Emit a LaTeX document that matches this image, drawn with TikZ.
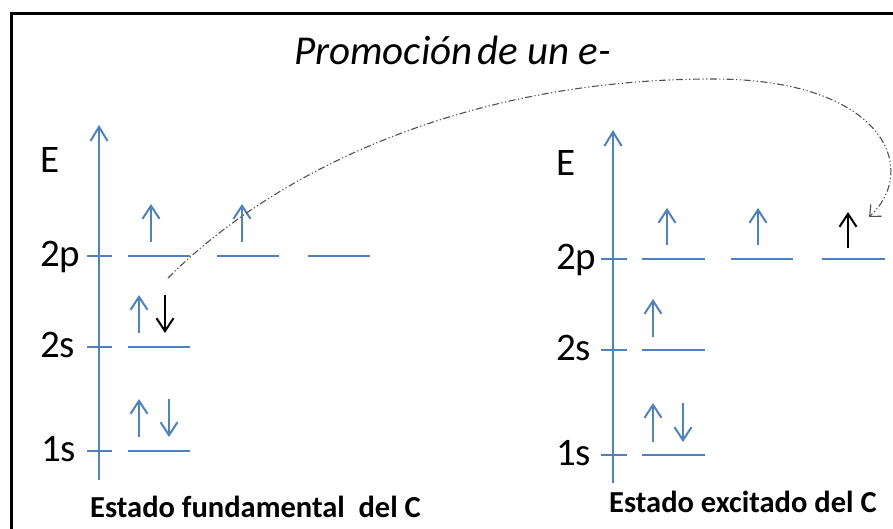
\documentclass[tikz,border=0pt]{standalone}
\usepackage{fontspec}
\setmainfont{Carlito}
\usetikzlibrary{arrows.meta}
\definecolor{oblue}{RGB}{79,129,189}
\definecolor{curvegray}{RGB}{80,80,80}
\begin{document}
\begin{tikzpicture}[x=1pt,y=-1pt,
  lvl/.style={draw=oblue, line width=2pt},
  axisarr/.style={draw=oblue, line width=2pt, -{Straight Barb[length=14pt,width=17pt,line width=2pt]}},
  spin/.style={draw=oblue, line width=2pt, -{Straight Barb[length=13pt,width=17pt,line width=2pt]}},
  bspin/.style={draw=black, line width=2pt, -{Straight Barb[length=13pt,width=17pt,line width=2pt]}},
  lab/.style={font=\fontsize{39}{39}\selectfont, inner sep=0pt, anchor=base west},
  captxt/.style={font=\bfseries\fontsize{30.5}{30.5}\selectfont, inner sep=0pt, anchor=base west},
  promo/.style={draw=curvegray, line width=1.1pt, dash pattern=on 7pt off 2.5pt on 1.2pt off 2.5pt on 1.2pt off 2.5pt,
     -{Straight Barb[length=9pt,width=16pt,line width=1.1pt]}}
]
\useasboundingbox (0,0) rectangle (893,529);
\fill[white] (0,0) rectangle (893,529);
% frame
\draw[line width=3pt] (11,560) -- (11,13.5) -- (920,13.5);
% title
\node[font=\itshape\fontsize{41}{41}\selectfont, inner sep=0pt, anchor=base west] (title) at (294,65) {Promoción\hspace{0.12em}de un e-};

% ---------- left: ground state ----------
\draw[axisarr] (99,480) -- (99,125);
\foreach \y in {256,347,451} \draw[lvl] (87,\y) -- (112,\y);
\draw[lvl] (128,256) -- (190,256);
\draw[lvl] (217,256) -- (279,256);
\draw[lvl] (308,256) -- (370,256);
\draw[lvl] (128,347) -- (190,347);
\draw[lvl] (128,451) -- (190,451);
\draw[spin] (151,242) -- (151,204);
\draw[spin] (242,242) -- (242,204);
\draw[spin] (139,333) -- (139,295);
\draw[bspin] (165,295) -- (165,333);
\draw[spin] (139,437) -- (139,399);
\draw[spin] (169,399) -- (169,437);
\node[lab] (lE) at (40,173) {E};
\node[lab] (l2p) at (40,266) {2p};
\node[lab] (l2s) at (40,357) {2s};
\node[lab] (l1s) at (41,461) {1s};
\node[captxt] (lcap) at (90,517) {Estado fundamental\hspace{0.45em}del C};

% ---------- right: excited state ----------
\draw[axisarr] (613,483) -- (613,130);
\foreach \y in {259,350,455} \draw[lvl] (601,\y) -- (627,\y);
\draw[lvl] (642,259) -- (705,259);
\draw[lvl] (731,259) -- (793,259);
\draw[lvl] (822,259) -- (885,259);
\draw[lvl] (642,350) -- (705,350);
\draw[lvl] (642,455) -- (705,455);
\draw[spin] (667,245) -- (667,208);
\draw[spin] (758,245) -- (758,208);
\draw[bspin] (848,248) -- (848,212);
\draw[spin] (653,337) -- (653,299);
\draw[spin] (653,442) -- (653,403);
\draw[spin] (683,403) -- (683,442);
\node[lab] (rE) at (556,176) {E};
\node[lab] (r2p) at (556,269) {2p};
\node[lab] (r2s) at (556,360) {2s};
\node[lab] (r1s) at (556,465) {1s};
\node[captxt] (rcap) at (609,512) {Estado excitado del C};

% ---------- promotion curve ----------
\coordinate (from) at (168,278);
\coordinate (top) at (713,79);
\coordinate (to) at (869,217);
\draw[promo] (from) .. controls (278,168) and (470,79) .. (top)
  .. controls (885,79) and (920,170) .. (to);
\end{tikzpicture}
\end{document}
